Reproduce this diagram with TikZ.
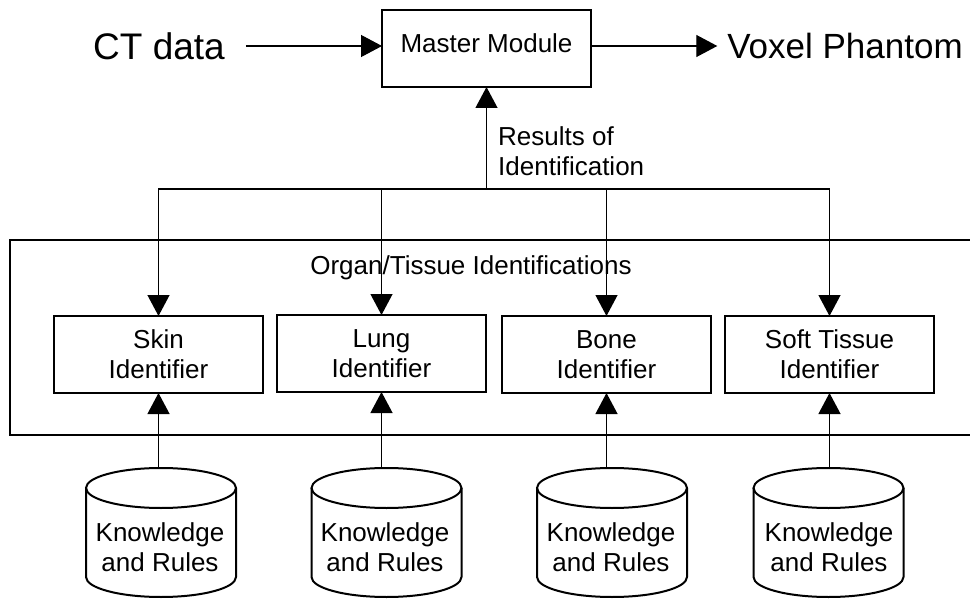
\documentclass[tikz,border=0pt]{standalone}
\usepackage{fontspec}
\setmainfont{Liberation Sans}
\usetikzlibrary{arrows.meta,calc}
\newcommand{\kbcyl}[4]{% name, cylinder x, text x, target node
  \node[sm,align=center,inner sep=0pt] (#1) at (#3,547) {Knowledge\\and Rules};
  \coordinate (#1top) at (#4.south |- 0,468);
  \draw[bord] (#2,488) ellipse [x radius=75, y radius=20];
  \draw[bord] (#2-75,488) -- (#2-75,577) arc[start angle=180, end angle=0, x radius=75, y radius=20] -- (#2+75,488);
  \draw[arr] (#1top) -- (#4.south);
}
\begin{document}
\begin{tikzpicture}[x=1pt,y=-1pt,
  bord/.style={line width=2pt},
  conn/.style={line width=1.2pt},
  arr/.style={conn,-{Triangle[length=21pt,width=22pt]}},
  sm/.style={font=\fontsize{26}{30}\selectfont},
  idbox/.style={draw,line width=2pt,minimum width=209pt,minimum height=77pt,inner sep=0pt,outer sep=0pt,sm,align=center}
]
\useasboundingbox (0,0) rectangle (970,599);

% top row
\node[idbox, text height=19pt, text depth=10pt] (master) at (486.5,48.5) {Master Module};
\node[font=\fontsize{37}{42}\selectfont, inner sep=0pt, outer xsep=21pt] (ct) at (159,46) {CT data};
\node[font=\fontsize{35}{40}\selectfont, inner sep=0pt, outer xsep=10pt] (vox) at (845,46) {Voxel Phantom};
\draw[arr] (ct.east) -- (ct.east -| master.west);
\draw[arr] (master.east |- vox.west) -- (vox.west);

% results
\coordinate (jn) at (486.5,189);
\draw[arr] (jn) -- (master.south);
\node[sm, anchor=west, align=left, inner sep=0pt] (res) at (498,151) {Results of\\Identification};

% frame
\draw[bord] (970,240) -- (10,240) -- (10,435) -- (970,435);
\node[sm] (org) at (471,268) {Organ/Tissue Identifications};

% identifiers
\node[idbox] (skin) at (158.5,354.5) {Skin\\Identifier};
\node[idbox] (lung) at (381.5,353.5) {Lung\\Identifier};
\node[idbox] (bone) at (606.5,354.5) {Bone\\Identifier};
\node[idbox] (soft) at (829.5,354.5) {Soft Tissue\\Identifier};

\draw[arr] (jn) -| (skin.north);
\draw[arr] (jn) -| (soft.north);
\draw[arr] (lung.north |- jn) -- (lung.north);
\draw[arr] (bone.north |- jn) -- (bone.north);

% knowledge bases
\kbcyl{kskin}{161}{160}{skin}
\kbcyl{klung}{386.5}{385}{lung}
\kbcyl{kbone}{612}{611}{bone}
\kbcyl{ksoft}{828.5}{829}{soft}
\end{tikzpicture}
\end{document}
